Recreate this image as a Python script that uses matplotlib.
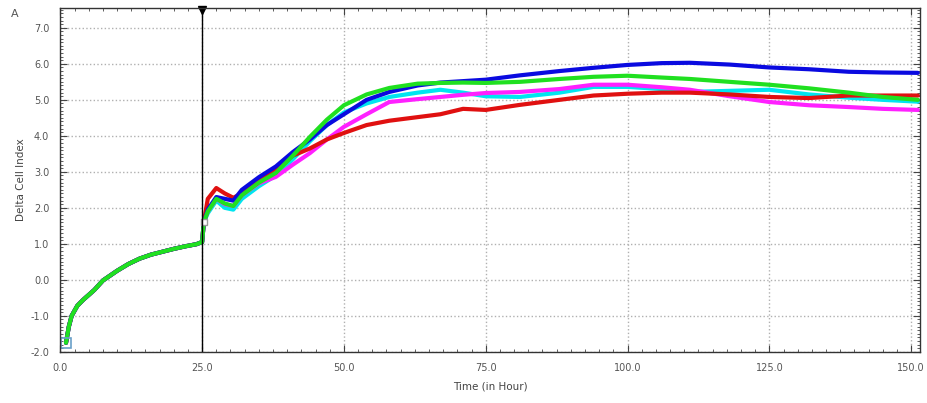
import numpy as np
import matplotlib
matplotlib.use("Agg")
import matplotlib.pyplot as plt
from matplotlib.ticker import MultipleLocator, FormatStrFormatter

# shared baseline before compound addition (t < 25 h)
pre_t = [1.0, 1.5, 2.0, 3.0, 4.0, 5.0, 6.0, 7.5, 10.0, 12.0, 14.0, 16.0, 18.0, 20.0, 22.0, 24.0, 25.0]
pre_v = [-1.75, -1.3, -1.0, -0.72, -0.56, -0.42, -0.28, -0.02, 0.25, 0.44, 0.59, 0.70, 0.78, 0.86, 0.93, 0.99, 1.05]

# after addition, per well
post_t = [25.3, 26.0, 27.5, 29.0, 30.5, 32.0, 35.0, 38.0, 41.0, 44.0, 47.0, 50.0, 54.0, 58.0,
          63.0, 67.0, 71.0, 75.0, 81.0, 88.0, 94.0, 100.0, 106.0, 111.0, 118.0, 125.0,
          132.0, 139.0, 145.0, 151.2]
red = [1.6, 2.25, 2.55, 2.4, 2.28, 2.4, 2.75, 3.1, 3.45, 3.65, 3.9, 4.08, 4.3, 4.42,
       4.52, 4.6, 4.75, 4.72, 4.86, 5.0, 5.12, 5.17, 5.2, 5.2, 5.15, 5.08,
       5.05, 5.12, 5.12, 5.12]
blue = [1.6, 1.95, 2.3, 2.25, 2.2, 2.5, 2.85, 3.15, 3.55, 3.9, 4.3, 4.6, 5.0, 5.22,
        5.4, 5.48, 5.52, 5.56, 5.68, 5.8, 5.89, 5.97, 6.02, 6.03, 5.98, 5.9,
        5.85, 5.78, 5.76, 5.75]
green = [1.6, 1.9, 2.25, 2.12, 2.05, 2.35, 2.7, 2.97, 3.45, 3.97, 4.45, 4.85, 5.15, 5.33,
         5.45, 5.47, 5.48, 5.47, 5.5, 5.58, 5.64, 5.67, 5.62, 5.58, 5.5, 5.42,
         5.32, 5.2, 5.08, 5.0]
cyan = [1.6, 1.85, 2.2, 2.0, 1.95, 2.25, 2.6, 2.9, 3.35, 3.85, 4.3, 4.65, 4.9, 5.08,
        5.2, 5.28, 5.2, 5.1, 5.08, 5.2, 5.36, 5.36, 5.3, 5.22, 5.25, 5.28,
        5.15, 5.06, 5.0, 4.95]
magenta = [1.6, 1.9, 2.25, 2.1, 2.05, 2.35, 2.68, 2.86, 3.2, 3.52, 3.9, 4.25, 4.6, 4.94,
           5.02, 5.08, 5.14, 5.19, 5.22, 5.3, 5.42, 5.42, 5.35, 5.28, 5.1, 4.94,
           4.85, 4.8, 4.75, 4.72]

series = [("#00e5f0", cyan), ("#ff20ff", magenta), ("#e01010", red),
          ("#0a0ae0", blue), ("#20e020", green)]

fig = plt.figure(figsize=(9.28, 4.03), dpi=100)
ax = fig.add_axes([0.065, 0.127, 0.926, 0.853])

for color, vals in series:
    t = pre_t + post_t
    v = pre_v + vals
    ax.plot(t, v, color=color, lw=3.0, solid_capstyle="round")

# start markers
ax.plot([pre_t[0]], [pre_v[0]], marker="s", ms=7, mfc="none", mec="#6aa0c8", mew=1.2)
ax.plot([post_t[0]], [1.6], marker="s", ms=5, mfc="white", mec="#999999", mew=1)

# compound addition line
ax.axvline(25, color="black", lw=1)
ax.plot([25], [7.5], marker="v", color="black", ms=6, clip_on=False)

ax.set_xlim(0, 151.5)
ax.set_ylim(-2.0, 7.55)
ax.xaxis.set_major_locator(MultipleLocator(25))
ax.xaxis.set_minor_locator(MultipleLocator(2.5))
ax.yaxis.set_major_locator(MultipleLocator(1))
ax.yaxis.set_minor_locator(MultipleLocator(0.1))
ax.xaxis.set_major_formatter(FormatStrFormatter("%.1f"))
ax.yaxis.set_major_formatter(FormatStrFormatter("%.1f"))

ax.grid(True, which="major", color="#b0b0b0", linestyle=":", lw=1)
ax.tick_params(which="both", direction="in", top=True, right=True,
               labelsize=7, labelcolor="#555555", color="#444444")
ax.tick_params(which="major", length=5, pad=8)
ax.tick_params(which="minor", length=2.5)
for s in ax.spines.values():
    s.set_color("#333333")
    s.set_linewidth(1)

ax.set_xlabel("Time (in Hour)", fontsize=7.5, color="#444444", labelpad=6)
ax.set_ylabel("Delta Cell Index", fontsize=7.5, color="#444444", labelpad=3)
fig.text(0.012, 0.965, "A", fontsize=8, color="#555555", va="center")

fig.savefig("out.png", dpi=100)
